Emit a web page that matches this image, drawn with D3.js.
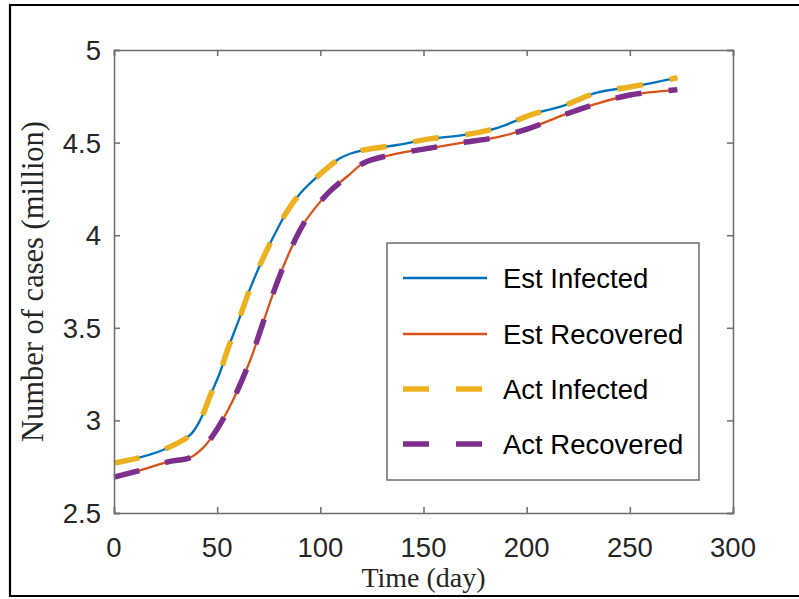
<!DOCTYPE html>
<html>
<head>
<meta charset="utf-8">
<script src="https://cdn.jsdelivr.net/npm/d3@7"></script>
<style>
  html, body { margin: 0; padding: 0; background: #fff; }
  svg { display: block; }
</style>
</head>
<body>
<svg id="chart" width="799" height="599"></svg>
<script>
// ---- Data ----
const days = [0, 12.6, 25.7, 36.8, 41.7, 46.5, 51.4, 55, 61, 65.9, 72.4, 77.2, 83.7, 90.2, 99.9, 109.5, 114.4, 121, 137, 153, 169, 186, 202, 218, 234, 250, 273];
const estInfected = [2.77, 2.80, 2.85, 2.92, 3.00, 3.13, 3.26, 3.38, 3.558, 3.71, 3.88, 3.99, 4.125, 4.225, 4.33, 4.415, 4.44, 4.46, 4.487, 4.52, 4.54, 4.58, 4.65, 4.70, 4.77, 4.80, 4.85];
const actInfected = [2.77, 2.80, 2.85, 2.92, 3.00, 3.13, 3.26, 3.38, 3.558, 3.71, 3.88, 3.99, 4.125, 4.225, 4.33, 4.415, 4.44, 4.46, 4.487, 4.52, 4.54, 4.58, 4.65, 4.70, 4.77, 4.80, 4.85];

const daysR = [0, 12.6, 25.7, 37, 43, 48, 53, 57.7, 62.5, 66.7, 70.8, 78.9, 85.3, 91.8, 99.9, 104.7, 109.5, 114.4, 121, 137, 153, 169, 186, 202, 218, 234, 250, 273];
const estRecovered = [2.694, 2.73, 2.775, 2.80, 2.85, 2.92, 3.01, 3.11, 3.23, 3.344, 3.48, 3.74, 3.915, 4.06, 4.18, 4.238, 4.285, 4.33, 4.39, 4.44, 4.47, 4.50, 4.53, 4.58, 4.65, 4.71, 4.757, 4.785];
const actRecovered = [2.694, 2.73, 2.775, 2.80, 2.85, 2.92, 3.01, 3.11, 3.23, 3.344, 3.48, 3.74, 3.915, 4.06, 4.18, 4.238, 4.285, 4.33, 4.39, 4.44, 4.47, 4.50, 4.53, 4.58, 4.65, 4.71, 4.757, 4.785];

const xTicks = [0, 50, 100, 150, 200, 250, 300];
const yTicks = [2.5, 3, 3.5, 4, 4.5, 5];
const seriesNames = ["Est Infected", "Est Recovered", "Act Infected", "Act Recovered"];

// ---- Layout ----
const svg = d3.select("#chart");
const L = 114, R = 733, T = 50, B = 513;
const x = d3.scaleLinear().domain([0, 300]).range([L, R]);
const y = d3.scaleLinear().domain([2.5, 5]).range([B, T]);

const axisColor = "#6e6e6e";
const textColor = "#262626";
const sansFont = "Liberation Sans, Arial, sans-serif";
const serifFont = "Liberation Serif, Times New Roman, serif";

// Outer frame (top, left, bottom)
svg.append("path")
  .attr("d", "M799,5 L10,5 L10,596 L799,596")
  .attr("fill", "none").attr("stroke", "#000").attr("stroke-width", 2.2);

const series = [
  { name: seriesNames[0], xs: days, ys: estInfected, color: "#0072BD", width: 2.3, dash: null },
  { name: seriesNames[1], xs: daysR, ys: estRecovered, color: "#D95319", width: 2.3, dash: null },
  { name: seriesNames[2], xs: days, ys: actInfected, color: "#EDB120", width: 5.5, dash: "26,27" },
  { name: seriesNames[3], xs: daysR, ys: actRecovered, color: "#7E2F8E", width: 5.5, dash: "26,27" }
];

const line = d3.line()
  .x(d => x(d[0])).y(d => y(d[1]))
  .curve(d3.curveCatmullRom.alpha(0.5));

series.forEach(s => {
  const pts = s.xs.map((t, i) => [t, s.ys[i]]);
  svg.append("path")
    .datum(pts)
    .attr("d", line)
    .attr("fill", "none")
    .attr("stroke", s.color)
    .attr("stroke-width", s.width)
    .attr("stroke-dasharray", s.dash)
    .attr("stroke-linejoin", "round");
});

// Axes (box with inner ticks)
const tickLen = 6;
const gAxes = svg.append("g");
const xAxisB = d3.axisBottom(x).tickValues(xTicks).tickSize(-tickLen).tickFormat("");
const xAxisT = d3.axisTop(x).tickValues(xTicks).tickSize(-tickLen).tickFormat("");
const yAxisL = d3.axisLeft(y).tickValues(yTicks).tickSize(-tickLen).tickFormat("");
const yAxisR = d3.axisRight(y).tickValues(yTicks).tickSize(-tickLen).tickFormat("");

gAxes.append("g").attr("transform", `translate(0,${B})`).call(xAxisB);
gAxes.append("g").attr("transform", `translate(0,${T})`).call(xAxisT);
gAxes.append("g").attr("transform", `translate(${L},0)`).call(yAxisL);
gAxes.append("g").attr("transform", `translate(${R},0)`).call(yAxisR);
gAxes.selectAll(".domain").attr("stroke", axisColor).attr("stroke-width", 1.5);
gAxes.selectAll(".tick line").attr("stroke", axisColor).attr("stroke-width", 1.5);

// Tick labels
svg.append("g").selectAll("text").data(xTicks).join("text")
  .attr("x", d => x(d)).attr("y", 557)
  .attr("text-anchor", "middle")
  .attr("font-family", sansFont)
  .attr("font-size", 27.5).attr("fill", textColor)
  .text(d => d);

svg.append("g").selectAll("text").data(yTicks).join("text")
  .attr("x", 101).attr("y", d => y(d))
  .attr("dy", "0.36em")
  .attr("text-anchor", "end")
  .attr("font-family", sansFont)
  .attr("font-size", 27.5).attr("fill", textColor)
  .text(d => d);

// Axis labels
svg.append("text")
  .attr("x", (L + R) / 2).attr("y", 587)
  .attr("text-anchor", "middle")
  .attr("font-family", serifFont)
  .attr("font-size", 28).attr("fill", textColor)
  .text("Time (day)");

svg.append("text")
  .attr("transform", `translate(43,${(T + B) / 2}) rotate(-90)`)
  .attr("text-anchor", "middle")
  .attr("font-family", serifFont)
  .attr("font-size", 30.5).attr("fill", textColor)
  .text("Number of cases (million)");

// Legend
const lg = svg.append("g");
lg.append("rect")
  .attr("x", 387).attr("y", 243).attr("width", 312).attr("height", 237)
  .attr("fill", "#fff").attr("stroke", axisColor).attr("stroke-width", 1.5);
const legendY = [278, 334, 389, 444];
series.forEach((s, i) => {
  lg.append("line")
    .attr("x1", 403).attr("x2", 487)
    .attr("y1", legendY[i]).attr("y2", legendY[i])
    .attr("stroke", s.color)
    .attr("stroke-width", s.dash ? 5.5 : 2.3)
    .attr("stroke-dasharray", s.dash);
  lg.append("text")
    .attr("x", 503).attr("y", legendY[i]).attr("dy", "0.36em")
    .attr("font-family", sansFont)
    .attr("font-size", 27.5).attr("fill", "#000")
    .text(s.name);
});
</script>
</body>
</html>
